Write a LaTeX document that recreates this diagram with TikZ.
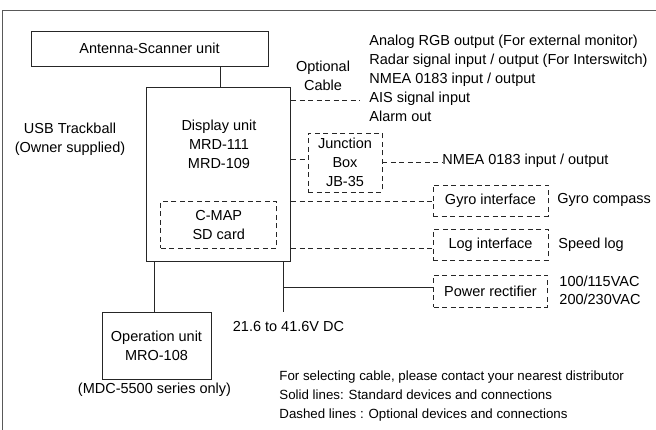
\documentclass[tikz,border=0pt]{standalone}
\usepackage{fontspec}
\setmainfont{Liberation Sans}
\newcommand{\mainfs}{\fontsize{14.5}{19}\selectfont}
\newcommand{\vacfs}{\fontsize{14.5}{17.5}\selectfont}
\newcommand{\notefs}{\fontsize{13.3}{19.2}\selectfont}
\begin{document}
\begin{tikzpicture}[x=1pt,y=-1pt,
  line width=0.9pt,
  every node/.style={font=\mainfs, text=black},
  unitbox/.style={draw=black!85, rectangle, inner sep=0pt, align=center},
  optbox/.style={unitbox, dash pattern=on 5pt off 3.5pt},
  optline/.style={draw=black!85, dash pattern=on 5pt off 3.5pt},
  solidline/.style={draw=black!85},
  txt/.style={inner sep=0pt, align=center}
]
\useasboundingbox (0,0) rectangle (656,430);
\draw[black!65] (2,432) -- (2,10) -- (658,10);

% boxes
\node[unitbox, minimum width=237pt, minimum height=35.5pt] (ant) at (149.5,48.75) {Antenna-Scanner unit};
\node[unitbox, minimum width=144pt, minimum height=174pt] (disp) at (218.75,174.25) {};
\node[txt] (disptxt) at (219,144) {Display unit\\MRD-111\\MRD-109};
\node[optbox, minimum width=116pt, minimum height=47pt] (cmap) at (218.75,225) {C-MAP\\SD card};
\node[optbox, minimum width=74pt, minimum height=59pt] (jb) at (345,162.5) {Junction\\Box\\JB-35};
\node[optbox, minimum width=115pt, minimum height=31pt] (gyro) at (490.5,200.5) {Gyro interface};
\node[optbox, minimum width=115pt, minimum height=31pt] (log) at (490.5,245) {Log interface};
\node[optbox, minimum width=114pt, minimum height=32pt] (pwr) at (490.5,291) {Power rectifier};
\node[unitbox, minimum width=109pt, minimum height=67pt] (op) at (156.5,345.5) {Operation unit\\MRO-108};

% texts
\node[txt] (usb) at (70,139.5) {USB Trackball\\(Owner supplied)};
\node[txt] (optcab) at (323,75.5) {Optional\\Cable};
\node[txt, anchor=west, align=left] (outs) at (369,78) {Analog RGB output (For external monitor)\\Radar signal input / output (For Interswitch)\\NMEA 0183 input / output\\AIS signal input\\Alarm out};
\node[txt, anchor=west] (nmea) at (442,161) {NMEA 0183 input / output};
\node[txt, anchor=west] (gyc) at (557,200) {Gyro compass};
\node[txt, anchor=west] (spd) at (558,244.5) {Speed log};
\node[txt, anchor=west, align=left, font=\vacfs] (vac) at (559,290.5) {100/115VAC\\200/230VAC};
\node[txt] (dc) at (288.5,327) {21.6 to 41.6V DC};
\node[txt] (mdc) at (154.5,390) {(MDC-5500 series only)};
\node[txt, anchor=west, align=left, font=\notefs] (notes) at (279,396) {For selecting cable, please contact your nearest distributor\\Solid lines: Standard devices and connections\\Dashed lines : Optional devices and connections};

% connectors
\coordinate (antc) at (220,0);
\draw[solidline] (ant.south -| antc) -- (disp.north -| antc);
\coordinate (aisend) at (360,100.5);
\draw[optline] (disp.east |- aisend) -- (aisend);
\coordinate (jbl) at (0,159.5);
\draw[optline] (disp.east |- jbl) -- (jb.west |- jbl);
\draw[optline] (jb.east) -- (jb.east -| nmea.west);
\coordinate (gyl) at (0,201.5);
\draw[optline] (disp.east |- gyl) -- (gyro.west |- gyl);
\coordinate (logl) at (0,248);
\draw[optline] (disp.east |- logl) -- (log.west |- logl);
\coordinate (dcend) at (283,312);
\draw[solidline] (disp.south -| dcend) -- (dcend);
\coordinate (pwrl) at (0,287);
\draw[solidline] (dcend |- pwrl) -- (pwr.west |- pwrl);
\coordinate (opc) at (154.5,0);
\draw[solidline] (disp.south -| opc) -- (op.north -| opc);
\end{tikzpicture}
\end{document}
